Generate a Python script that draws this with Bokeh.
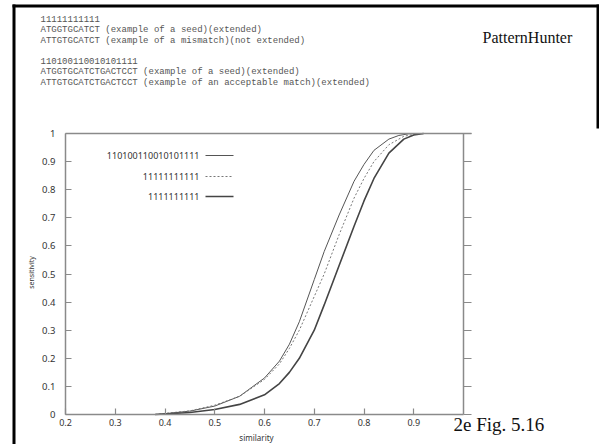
from bokeh.plotting import figure
from bokeh.models import Label, LinearAxis, FixedTicker, Range1d, Arrow
from bokeh.embed import file_html
from bokeh.resources import INLINE
from math import pi

# ---- data ----
sim_a = [0.38, 0.40, 0.45, 0.50, 0.55, 0.60, 0.63, 0.65, 0.67, 0.70, 0.72, 0.75, 0.78, 0.80, 0.82, 0.85, 0.87, 0.89, 0.90]
sens_a = [0.0, 0.003, 0.012, 0.03, 0.065, 0.13, 0.19, 0.25, 0.33, 0.48, 0.58, 0.71, 0.83, 0.89, 0.94, 0.98, 0.993, 0.999, 1.0]

sim_b = [0.38, 0.40, 0.45, 0.50, 0.55, 0.60, 0.63, 0.65, 0.67, 0.70, 0.72, 0.75, 0.78, 0.80, 0.82, 0.85, 0.88, 0.90, 0.92]
sens_b = [0.0, 0.004, 0.013, 0.033, 0.065, 0.125, 0.18, 0.235, 0.3, 0.42, 0.5, 0.64, 0.77, 0.84, 0.9, 0.96, 0.99, 0.997, 1.0]

sim_c = [0.38, 0.40, 0.45, 0.50, 0.55, 0.60, 0.63, 0.65, 0.67, 0.70, 0.72, 0.75, 0.78, 0.80, 0.82, 0.85, 0.88, 0.90, 0.92]
sens_c = [0.0, 0.002, 0.007, 0.018, 0.036, 0.07, 0.11, 0.15, 0.2, 0.3, 0.39, 0.53, 0.67, 0.76, 0.84, 0.93, 0.98, 0.995, 1.0]

legend_labels = ["110100110010101111", "11111111111", "1111111111"]
x_ticks = [0.2, 0.3, 0.4, 0.5, 0.6, 0.7, 0.8, 0.9]
y_ticks = [0, 0.1, 0.2, 0.3, 0.4, 0.5, 0.6, 0.7, 0.8, 0.9, 1.0]

header_lines = [
    "11111111111",
    "ATGGTGCATCT (example of a seed)(extended)",
    "ATTGTGCATCT (example of a mismatch)(not extended)",
    "",
    "110100110010101111",
    "ATGGTGCATCTGACTCCT (example of a seed)(extended)",
    "ATTGTGCATCTGACTCCT (example of an acceptable match)(extended)",
]

# ---- layout: plot box (in canvas pixels) inside a full-canvas frame ----
W, H = 599, 444
BL, BR, BT, BB = 65, 463, 133, 414
X0, X1, Y0, Y1 = 0.2, 1.0, 0.0, 1.0
kx = (X1 - X0) / (BR - BL)
ky = (Y1 - Y0) / (BB - BT)
xr = Range1d(X0 - BL * kx, X0 + (W - BL) * kx)
yr = Range1d(Y0 - (H - BB) * ky, Y0 + BB * ky)

def dx(px):  # canvas x pixel -> data x
    return X0 + (px - BL) * kx

def dy(py):  # canvas y pixel (from top) -> data y
    return Y0 + (BB - py) * ky

p = figure(width=W, height=H, output_backend="svg", toolbar_location=None,
           x_range=xr, y_range=yr, min_border=0,
           x_axis_type=None, y_axis_type=None)
p.grid.visible = False
p.outline_line_color = None
p.background_fill_color = "white"
p.border_fill_color = "white"

axis_col = "#8a8a8a"
tick_font = "Noto Sans"

def style_axis(ax, tin, tout, labels=True):
    ax.axis_line_color = axis_col
    ax.axis_line_width = 1.5
    ax.major_tick_line_color = axis_col
    ax.major_tick_line_width = 1.2
    ax.minor_tick_line_color = None
    ax.major_tick_in = tin
    ax.major_tick_out = tout
    ax.major_label_text_font = tick_font
    ax.major_label_text_font_size = "9px"
    ax.major_label_text_color = "#333333"
    if not labels:
        ax.major_label_text_alpha = 0

xb = LinearAxis(ticker=FixedTicker(ticks=x_ticks), fixed_location=Y0, bounds=(X0, X1))
style_axis(xb, 6, 0)
xb.major_label_standoff = 4
p.add_layout(xb, "below")

yl = LinearAxis(ticker=FixedTicker(ticks=y_ticks), fixed_location=X0, bounds=(Y0, Y1))
style_axis(yl, 6, 0)
yl.major_label_standoff = 10
yl.major_label_text_font_size = "9.5px"
yl.major_label_overrides = {0: "0", 1: "1"}
p.add_layout(yl, "left")

yrgt = LinearAxis(ticker=FixedTicker(ticks=y_ticks), fixed_location=X1, bounds=(Y0, Y1))
style_axis(yrgt, 0, 8, labels=False)
p.add_layout(yrgt, "right")

xt = LinearAxis(ticker=FixedTicker(ticks=[]), fixed_location=Y1, bounds=(X0, X1 + 8 * kx))
style_axis(xt, 0, 0, labels=False)
p.add_layout(xt, "above")

# ---- curves ----
p.line(sim_a, sens_a, line_color="#555555", line_width=1.0)
p.line(sim_b, sens_b, line_color="#777777", line_width=1.0, line_dash="2 2")
p.line(sim_c, sens_c, line_color="#444444", line_width=1.6)

# ---- legend (label left, sample right) ----
leg_rows = [155, 176, 196]
leg_styles = [dict(line_color="#555555", line_width=1.0),
              dict(line_color="#777777", line_width=1.0, line_dash="2 2"),
              dict(line_color="#444444", line_width=1.6)]

def dlabel(px, py, text, **kw):
    p.add_layout(Label(x=dx(px), y=dy(py), text=text, text_baseline="middle", **kw))

for lab, py, st in zip(legend_labels, leg_rows, leg_styles):
    dlabel(199, py, lab, text_align="right", text_font=tick_font,
           text_font_size="9px", text_color="#333333")
    p.line([dx(205), dx(233)], [dy(py), dy(py)], **st)

# ---- axis titles ----
dlabel(256, 437, "similarity", text_align="center", text_font=tick_font,
       text_font_size="8px", text_color="#333333")
dlabel(31, 272, "sensitivity", text_align="center", angle=pi / 2,
       text_font=tick_font, text_font_size="7px", text_color="#333333")

# ---- header texts ----
header_y = [18, 29, 40, 50, 60, 71, 82]
for txt, py in zip(header_lines, header_y):
    if txt:
        dlabel(40, py, txt, text_align="left", text_font="Liberation Mono",
               text_font_size="9px", text_color="#555555")

dlabel(482, 37, "PatternHunter", text_align="left", text_font="Liberation Serif",
       text_font_size="16px", text_color="#111111")
dlabel(453, 424, "2e Fig. 5.16", text_align="left", text_font="Liberation Serif",
       text_font_size="19px", text_color="#111111")

# ---- slide border (left, top, upper right) ----
p.add_layout(Arrow(end=None, x_start=dx(13.5), y_start=dy(4), x_end=dx(13.5), y_end=dy(460),
                   line_color="black", line_width=3))
p.add_layout(Arrow(end=None, x_start=dx(12), y_start=dy(5.5), x_end=dx(620), y_end=dy(5.5),
                   line_color="black", line_width=3))
p.add_layout(Arrow(end=None, x_start=dx(597.5), y_start=dy(4), x_end=dx(597.5), y_end=dy(128),
                   line_color="black", line_width=3))

open("out.html", "w").write(file_html(p, INLINE))
